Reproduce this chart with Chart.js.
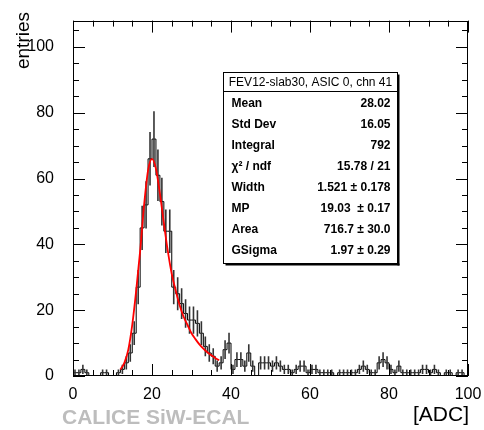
<!DOCTYPE html>
<html>
<head>
<meta charset="utf-8">
<script src="https://cdn.jsdelivr.net/npm/chart.js@4"></script>
<style>
  html, body { margin: 0; padding: 0; background: #fff; }
  #wrap { width: 484px; height: 430px; }
</style>
</head>
<body>
<div id="wrap"><canvas id="c" width="484" height="430"></canvas></div>
<script>
// =============================
// Data
// =============================
// entries per 1-ADC bin, bins 0..99
const counts = [
  1, 1, 2, 1, 0, 0, 0, 1, 1, 0,
  0, 1, 2, 4, 7, 13, 27, 45, 52, 66,
  72, 61, 53, 44, 44, 27, 25, 22, 19, 17,
  17, 16, 13, 9, 7, 6, 3, 4, 8, 10,
  2, 5, 5, 3, 7, 3, 0, 4, 4, 4,
  3, 4, 3, 2, 2, 1, 2, 3, 3, 1,
  2, 2, 1, 1, 1, 1, 0, 1, 1, 1,
  1, 1, 2, 3, 2, 1, 1, 4, 5, 4,
  2, 1, 3, 1, 1, 1, 1, 1, 2, 2,
  1, 2, 1, 0, 1, 1, 0, 1, 1, 0
];

// Landau x Gauss fit curve
const fitX = [12, 13, 14, 15, 16, 17, 18, 19, 20, 21, 22, 23, 24, 25, 26, 27, 28, 29, 30, 31, 32, 33, 34, 35, 36, 37];
const fitY = [2, 4, 8, 15.5, 26, 38, 52, 62.5, 66, 63, 55.5, 46.5, 38, 31, 26, 21.5, 18, 15.5, 13, 11.2, 9.6, 8.3, 7.2, 6.3, 5.5, 4.8];

const xTicks = [0, 20, 40, 60, 80, 100];
const yTicks = [0, 20, 40, 60, 80, 100];

const statTitle = "FEV12-slab30, ASIC 0, chn 41";
const statLabels = ["Mean", "Std Dev", "Integral", "χ² / ndf", "Width", "MP", "Area", "GSigma"];
const statValues = ["28.02", "16.05", "792", "15.78 / 21", "1.521 ± 0.178", "19.03  ± 0.17", "716.7 ± 30.0", "1.97 ± 0.29"];

const FONT = "'Liberation Sans', Arial, Helvetica, sans-serif";

// histogram outline points (bin low edges)
const histPoints = [{ x: 0, y: 0 }];
counts.forEach((c, i) => histPoints.push({ x: i, y: c }));
histPoints.push({ x: counts.length, y: counts[counts.length - 1] });
histPoints.push({ x: counts.length, y: 0 });

// =============================
// Plugins
// =============================
const errorBars = {
  id: "errorBars",
  afterDatasetDraw(chart, args) {
    if (args.index !== 0) return;
    const { ctx, scales: { x, y }, chartArea } = chart;
    ctx.save();
    ctx.beginPath();
    ctx.rect(chartArea.left, chartArea.top, chartArea.right - chartArea.left, chartArea.bottom - chartArea.top);
    ctx.clip();
    ctx.strokeStyle = "#333";
    ctx.lineWidth = 1.6;
    counts.forEach((c, i) => {
      if (c <= 0) return;
      const e = Math.sqrt(c);
      const px = x.getPixelForValue(i + 0.5);
      ctx.beginPath();
      ctx.moveTo(px, y.getPixelForValue(c - e));
      ctx.lineTo(px, y.getPixelForValue(c + e));
      ctx.stroke();
    });
    ctx.restore();
  }
};

const frameAndText = {
  id: "frameAndText",
  afterDraw(chart) {
    const { ctx, scales: { x, y }, chartArea: a } = chart;
    ctx.save();
    ctx.strokeStyle = "#000";
    ctx.lineWidth = 1;

    // frame
    ctx.strokeRect(Math.round(a.left) + 0.5, Math.round(a.top) + 0.5,
      Math.round(a.right - a.left) - 1, Math.round(a.bottom - a.top) - 1);

    // ticks on all four sides, pointing inwards
    ctx.beginPath();
    for (let v = 0; v <= 100; v += 5) {
      const px = Math.round(x.getPixelForValue(v)) + 0.5;
      const len = v % 20 === 0 ? 12 : 6;
      ctx.moveTo(px, a.bottom); ctx.lineTo(px, a.bottom - len);
      ctx.moveTo(px, a.top); ctx.lineTo(px, a.top + len);
    }
    for (let v = 0; v <= 105; v += 5) {
      const py = Math.round(y.getPixelForValue(v)) + 0.5;
      const len = v % 20 === 0 ? 12 : 6;
      ctx.moveTo(a.left, py); ctx.lineTo(a.left + len, py);
      ctx.moveTo(a.right, py); ctx.lineTo(a.right - len, py);
    }
    ctx.stroke();

    // axis titles
    ctx.fillStyle = "#000";
    ctx.font = "19px " + FONT;
    ctx.save();
    ctx.translate(29, 12);
    ctx.rotate(-Math.PI / 2);
    ctx.textAlign = "right";
    ctx.textBaseline = "alphabetic";
    ctx.fillText("entries", 0, 0);
    ctx.restore();

    ctx.font = "21px " + FONT;
    ctx.textAlign = "right";
    ctx.textBaseline = "alphabetic";
    ctx.fillText("[ADC]", 469, 421);

    ctx.fillStyle = "#bdbdbd";
    ctx.font = "bold 21px " + FONT;
    ctx.textAlign = "left";
    ctx.fillText("CALICE SiW-ECAL", 62, 424);

    // stats box
    const bx = 223.5, by = 72.5, bw = 174, bh = 191;
    ctx.fillStyle = "#000";
    ctx.fillRect(bx + bw, by + 2, 2, bh);
    ctx.fillRect(bx + 2, by + bh, bw, 2);
    ctx.fillStyle = "#fff";
    ctx.fillRect(bx, by, bw, bh);
    ctx.strokeRect(bx, by, bw, bh);
    ctx.beginPath();
    ctx.moveTo(bx, by + 19); ctx.lineTo(bx + bw, by + 19);
    ctx.stroke();

    ctx.fillStyle = "#000";
    ctx.textBaseline = "middle";
    ctx.textAlign = "center";
    ctx.font = "12px " + FONT;
    ctx.fillText(statTitle, bx + bw / 2, by + 10);

    ctx.font = "bold 12px " + FONT;
    statLabels.forEach((lab, i) => {
      const ty = by + 31 + i * 21;
      ctx.textAlign = "left";
      ctx.fillText(lab, bx + 8, ty);
      ctx.textAlign = "right";
      ctx.fillText(statValues[i], bx + bw - 7, ty);
    });
    ctx.restore();
  }
};

// =============================
// Chart
// =============================
new Chart(document.getElementById("c"), {
  type: "line",
  data: {
    datasets: [
      {
        label: "hist",
        data: histPoints,
        stepped: "before",
        borderColor: "#000",
        borderWidth: 1,
        pointRadius: 0,
        fill: false,
        order: 1
      },
      {
        label: "fit",
        data: fitX.map((v, i) => ({ x: v, y: fitY[i] })),
        borderColor: "#ff0000",
        borderWidth: 1.8,
        pointRadius: 0,
        cubicInterpolationMode: "monotone",
        fill: false,
        order: 0
      }
    ]
  },
  options: {
    responsive: false,
    animation: false,
    devicePixelRatio: 1,
    layout: { padding: { left: 0, right: 16, top: 10, bottom: 0 } },
    plugins: { legend: { display: false }, tooltip: { enabled: false } },
    scales: {
      x: {
        type: "linear",
        min: 0,
        max: 100,
        grid: { display: false },
        border: { display: false },
        afterBuildTicks: (s) => { s.ticks = xTicks.map(v => ({ value: v })); },
        afterFit: (s) => { s.height = 54; },
        ticks: { color: "#000", font: { size: 16, family: FONT }, padding: 1, maxRotation: 0 }
      },
      y: {
        type: "linear",
        min: 0,
        max: 108,
        grid: { display: false },
        border: { display: false },
        afterBuildTicks: (s) => { s.ticks = yTicks.map(v => ({ value: v })); },
        afterFit: (s) => { s.width = 73; },
        ticks: { color: "#000", font: { size: 16, family: FONT }, padding: 11 }
      }
    }
  },
  plugins: [errorBars, frameAndText]
});
</script>
</body>
</html>
